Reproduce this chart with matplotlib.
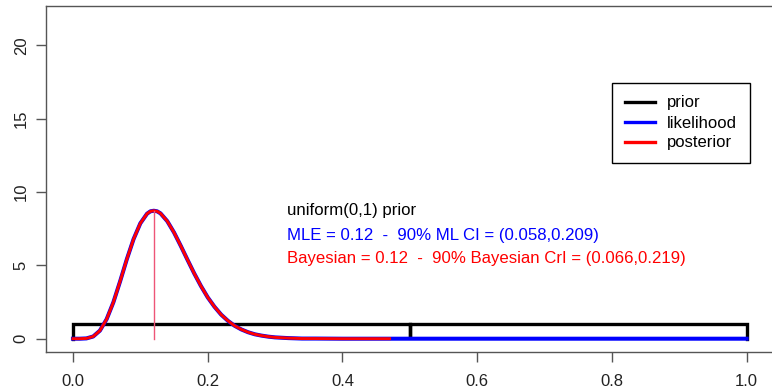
import matplotlib
matplotlib.use("Agg")
import matplotlib.pyplot as plt
from matplotlib.lines import Line2D

plt.rcParams['font.family'] = ['Liberation Sans', 'DejaVu Sans']

# ---- data ----
# posterior (red) density, drawn up to x = 0.47
post_x = [0.00, 0.01, 0.02, 0.03, 0.04, 0.05, 0.06, 0.07, 0.08, 0.09, 0.10,
          0.11, 0.115, 0.12, 0.125, 0.13, 0.14, 0.15, 0.16, 0.17, 0.18, 0.19,
          0.20, 0.21, 0.22, 0.23, 0.24, 0.25, 0.26, 0.27, 0.28, 0.29, 0.30,
          0.32, 0.34, 0.36, 0.40, 0.47]
post_y = [0.00, 0.00, 0.02, 0.15, 0.55, 1.33, 2.48, 3.91, 5.42, 6.79, 7.86,
          8.52, 8.68, 8.72, 8.68, 8.54, 8.01, 7.24, 6.33, 5.38, 4.45, 3.59,
          2.82, 2.18, 1.64, 1.22, 0.88, 0.63, 0.44, 0.30, 0.21, 0.14, 0.09,
          0.04, 0.01, 0.01, 0.00, 0.00]

# likelihood (blue), same shape, drawn over the whole (0,1) range
lik_x = post_x + [0.50, 0.60, 0.70, 0.80, 0.90, 1.00]
lik_y = post_y + [0.00, 0.00, 0.00, 0.00, 0.00, 0.00]

# uniform(0,1) prior, drawn as an outline
prior_x = [0.0, 0.0, 0.5, 0.5, 0.5, 1.0, 1.0]
prior_y = [0.0, 1.0, 1.0, 0.0, 1.0, 1.0, 0.0]

mle = 0.12
peak = 8.72
x_ticks = [0.0, 0.2, 0.4, 0.6, 0.8, 1.0]
y_ticks = [0, 5, 10, 15, 20]
info_lines = ["uniform(0,1) prior",
              "MLE = 0.12  -  90% ML CI = (0.058,0.209)",
              "Bayesian = 0.12  -  90% Bayesian CrI = (0.066,0.219)"]
info_y = [8.75, 7.05, 5.45]
info_cols = ['black', '#0000ff', '#ff0000']

# ---- figure ----
W, H = 772, 390
fig = plt.figure(figsize=(W / 100, H / 100), dpi=100, facecolor='white')
ax = fig.add_axes([46 / W, (H - 351.5) / H, (773.6 - 46) / W, (351.5 - 6) / H])

ax.plot(prior_x, prior_y, color='black', lw=2.4, solid_joinstyle='miter')
ax.plot(lik_x, lik_y, color='#0000ff', lw=2.9)
ax.plot(post_x, post_y, color='#ff0000', lw=2.1)
ax.plot([mle, mle], [0, peak], color='#ee5577', lw=1.0)

for txt, yy, cc in zip(info_lines, info_y, info_cols):
    ax.text(0.318, yy, txt, color=cc, fontsize=12.1, ha='left', va='center')

ax.set_xlim(-0.04, 1.04)
ax.set_ylim(-0.872, 22.672)
ax.set_xticks(x_ticks)
ax.set_xticklabels([f"{v:.1f}" for v in x_ticks])
ax.set_yticks(y_ticks)
ax.set_yticklabels([str(v) for v in y_ticks], rotation=90, va='center')
ax.tick_params(axis='both', direction='out', length=7.5, width=1,
               color='#555555', labelsize=12, labelcolor='#222222')
ax.tick_params(axis='x', pad=9)
ax.tick_params(axis='y', pad=5)
for sp in ax.spines.values():
    sp.set_color('#555555')
    sp.set_linewidth(1.0)

handles = [Line2D([0], [0], color='black', lw=2.4),
           Line2D([0], [0], color='#0000ff', lw=2.4),
           Line2D([0], [0], color='#ff0000', lw=2.4)]
leg = ax.legend(handles, ['prior', 'likelihood', 'posterior'],
                loc='upper left', bbox_to_anchor=(612 / W, (H - 83) / H),
                bbox_transform=fig.transFigure, fontsize=12, frameon=True,
                fancybox=False, edgecolor='black', framealpha=1,
                borderpad=0.75, handlelength=1.85, handletextpad=0.7,
                labelspacing=0.3, borderaxespad=0)
leg.get_frame().set_linewidth(1.0)

fig.savefig('out.png', dpi=100, facecolor='white')
